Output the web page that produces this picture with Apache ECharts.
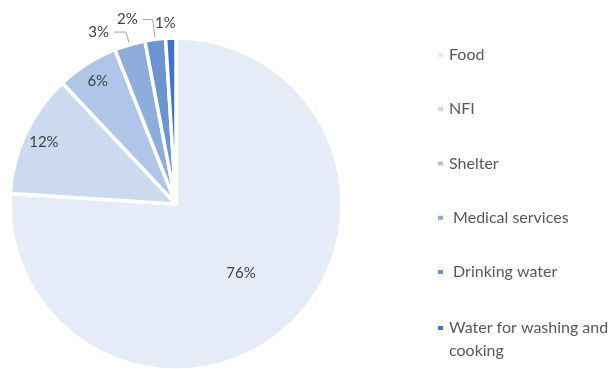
<!DOCTYPE html>
<html>
<head>
<meta charset="utf-8">
<style>
  html, body { margin: 0; padding: 0; background: #ffffff; }
  #chart { width: 614px; height: 369px; }
</style>
<script src="https://cdn.jsdelivr.net/npm/echarts@6/dist/echarts.min.js"></script>
</head>
<body>
<div id="chart"></div>
<script>
// Share of assistance needs by type (%)
const categories = ['Food', 'NFI', 'Shelter', ' Medical services', ' Drinking water', 'Water for washing and cooking'];
const shares = [76, 12, 6, 3, 2, 1];
const sliceColors = ['#E5ECF7', '#CCDAEF', '#AFC6E8', '#8EADDB', '#6B94D0', '#4472C4'];

const FONT = 'Lato, "Open Sans", sans-serif';
const CENTER = [176, 204];
const R = 166;

// Leader lines for the thin slices whose labels sit outside the pie
const outsideLines = {
  3: { show: true, length: 13, length2: 12 },
  4: { show: true, length: 20, length2: 10 },
  5: { show: false, length: 15, length2: 0 }
};

const mainData = categories.map((name, i) => {
  const item = { name: name, value: shares[i], itemStyle: { color: sliceColors[i] } };
  if (outsideLines[i]) {
    item.label = { show: true, position: 'outside' };
    item.labelLine = outsideLines[i];
  } else {
    item.label = { show: false };
  }
  return item;
});

// Transparent rings used only to place the inside labels at the right depth
function labelRing(radius, shownIdx) {
  return {
    type: 'pie',
    center: CENTER,
    radius: radius,
    startAngle: 90,
    clockwise: true,
    silent: true,
    avoidLabelOverlap: false,
    emphasis: { disabled: true },
    itemStyle: { color: 'rgba(0,0,0,0)', borderWidth: 0 },
    label: {
      position: 'inside',
      formatter: '{c}%',
      fontFamily: FONT,
      fontSize: 15,
      color: '#404040'
    },
    labelLine: { show: false },
    data: categories.map((name, i) => ({
      name: name,
      value: shares[i],
      label: { show: shownIdx.indexOf(i) >= 0 }
    }))
  };
}

const legendText = { fontFamily: FONT, fontSize: 16, color: '#595959' };

const option = {
  backgroundColor: '#ffffff',
  animation: false,
  legend: [
    {
      data: categories.slice(0, 5),
      orient: 'vertical',
      left: 436,
      top: 46.5,
      padding: 0,
      itemWidth: 7,
      itemHeight: 6,
      itemGap: 37.25,
      icon: 'rect',
      textStyle: Object.assign({ lineHeight: 17 }, legendText)
    },
    {
      // wrapped entry: an empty first line keeps the marker level with the first text line
      data: categories.slice(5),
      orient: 'vertical',
      left: 436,
      top: 293.5,
      padding: 0,
      itemWidth: 7,
      itemHeight: 6,
      icon: 'rect',
      formatter: name => '{gap| }\n' + name.replace(' and cooking', ' and\ncooking'),
      textStyle: Object.assign({
        lineHeight: 23,
        rich: { gap: { lineHeight: 23, fontSize: 16 } }
      }, legendText)
    }
  ],
  series: [
    {
      type: 'pie',
      center: CENTER,
      radius: R,
      startAngle: 90,
      clockwise: true,
      avoidLabelOverlap: false,
      itemStyle: { borderColor: '#ffffff', borderWidth: 3.5 },
      label: {
        formatter: '{c}%',
        fontFamily: FONT,
        fontSize: 15,
        color: '#404040',
        distanceToLabelLine: 5
      },
      labelLine: {
        smooth: false,
        lineStyle: { color: '#A6A6A6', width: 1 }
      },
      labelLayout: function (p) {
        if (p.dataIndex === 5) return { align: 'center' };
      },
      data: mainData
    },
    labelRing([0, 184], [0]),
    labelRing([120, R], [1, 2])
  ]
};

const chart = echarts.init(document.getElementById('chart'), null, { renderer: 'canvas' });
chart.setOption(option);
</script>
</body>
</html>
